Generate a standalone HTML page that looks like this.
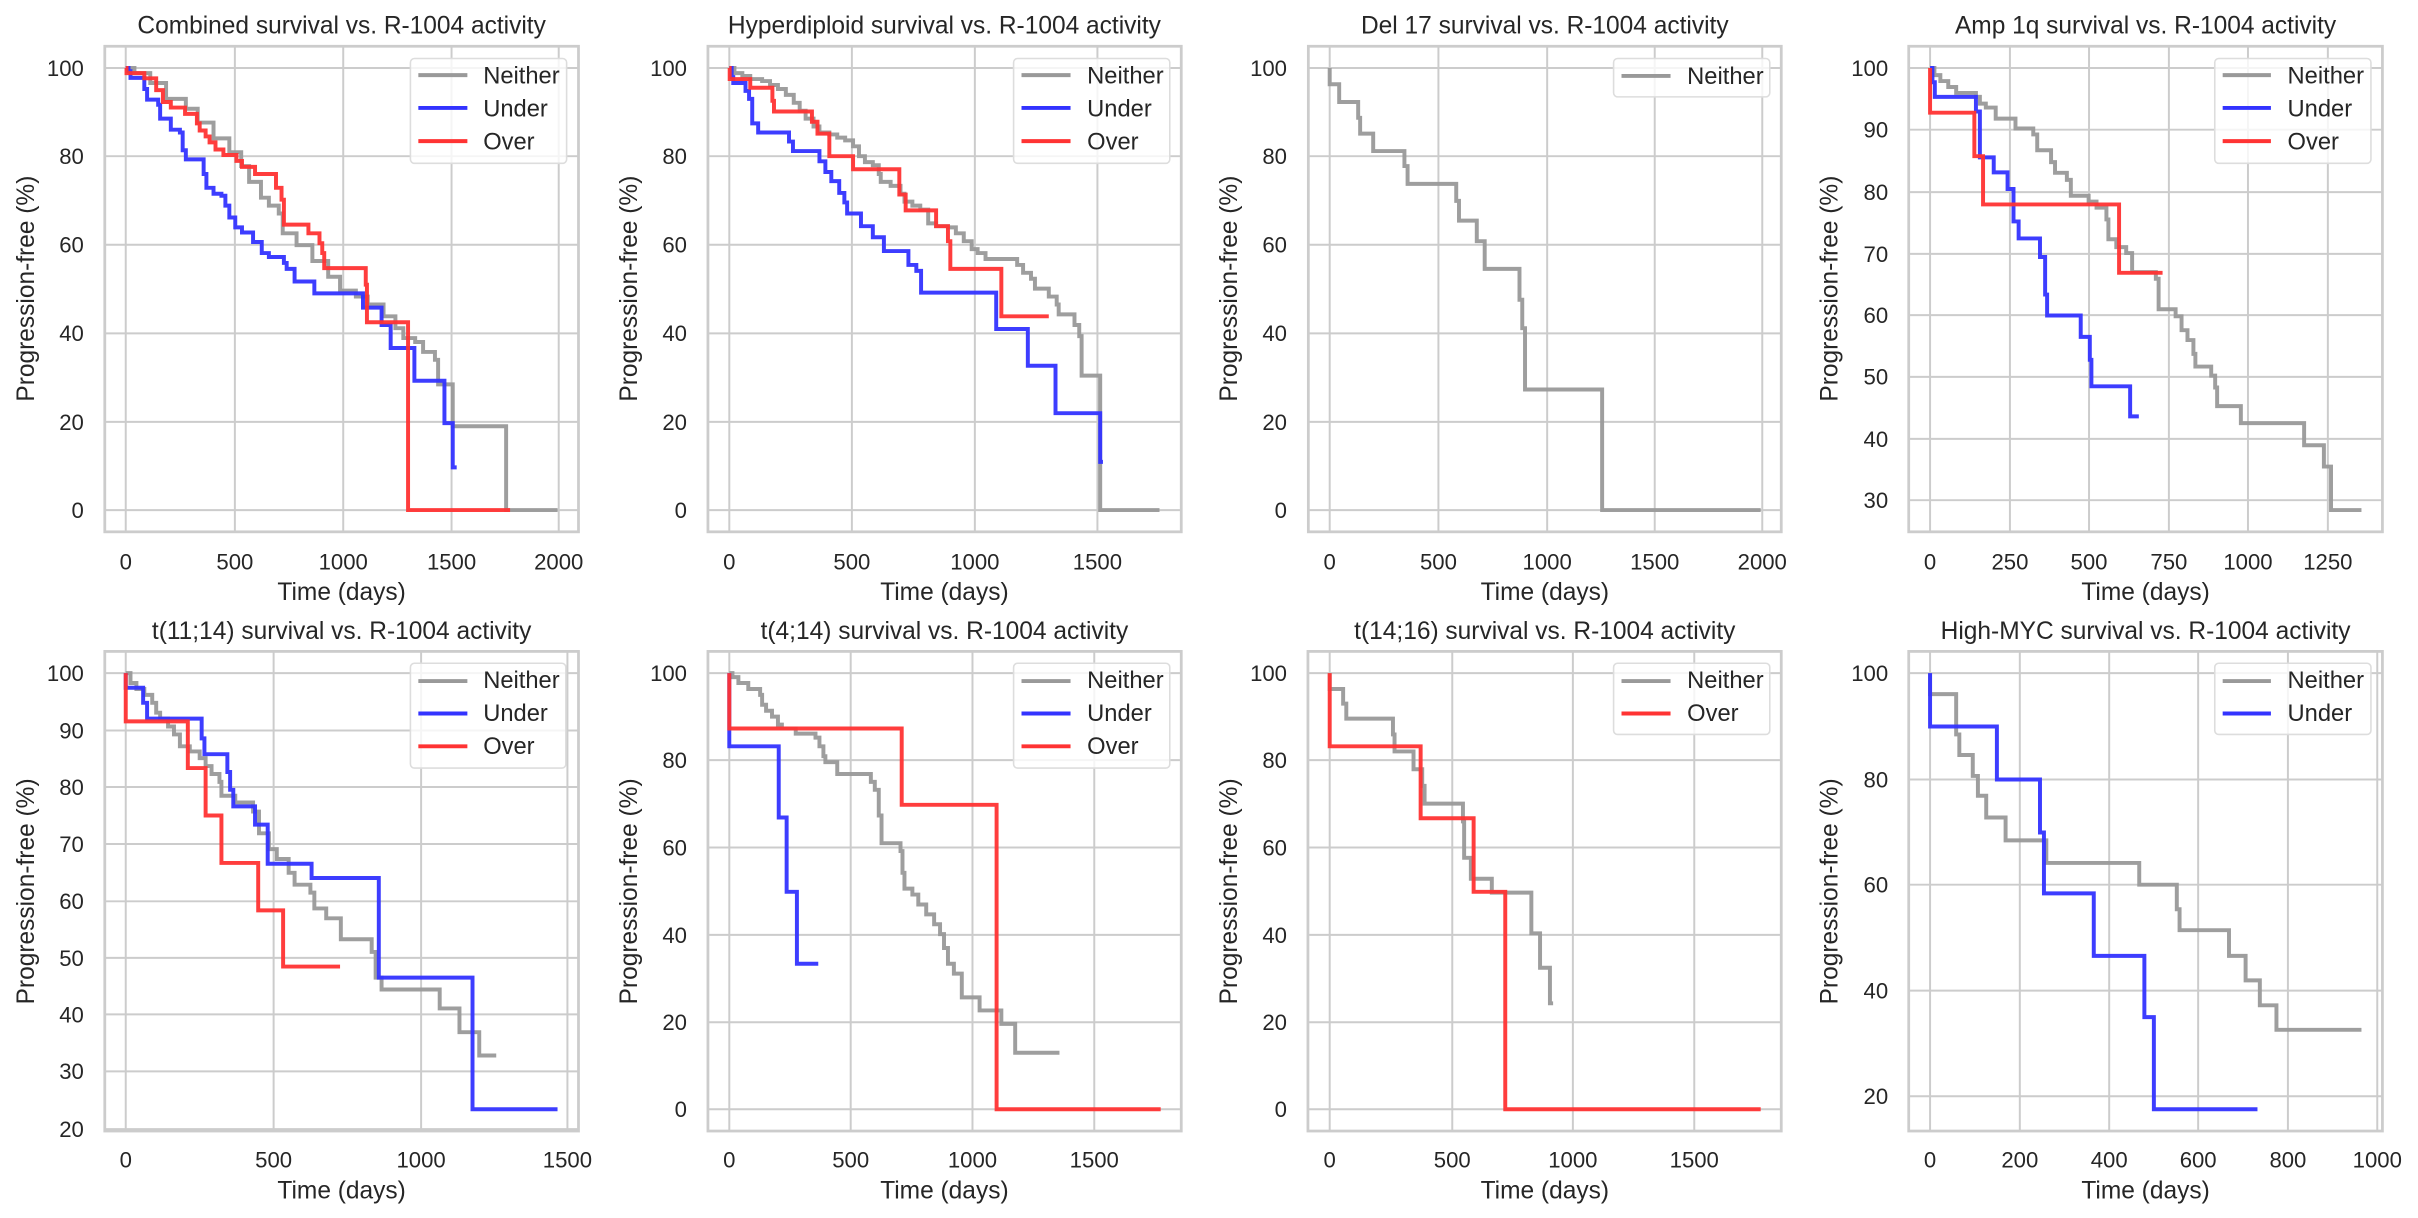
<!DOCTYPE html>
<html><head><meta charset="utf-8"><style>
html,body{margin:0;padding:0;background:#fff}
svg{display:block}
text{font-family:"Liberation Sans",Arial,sans-serif;fill:#262626}
.tk{font-size:56px}
.yt{text-anchor:end}
.xt{text-anchor:middle}
.lb{font-size:62px;text-anchor:middle}
.tt{font-size:62px;text-anchor:middle}
.lg{font-size:60px}
</style></head><body>
<svg id="s" width="2418" height="1218" viewBox="0 0 2418 1218" xmlns="http://www.w3.org/2000/svg">
<rect width="2418" height="1218" fill="#fff"/>

<g id="p1" transform="translate(0,0) scale(0.39541)">
<text class="tt" x="864" y="85">Combined survival vs. R-1004 activity</text>
<text class="tk yt" x="212" y="192">100</text><text class="tk yt" x="212" y="415">80</text><text class="tk yt" x="212" y="639">60</text><text class="tk yt" x="212" y="863">40</text><text class="tk yt" x="212" y="1087">20</text><text class="tk yt" x="212" y="1310">0</text>
<text class="tk xt" x="318" y="1440">0</text><text class="tk xt" x="594" y="1440">500</text><text class="tk xt" x="868" y="1440">1000</text><text class="tk xt" x="1142" y="1440">1500</text><text class="tk xt" x="1413" y="1440">2000</text>
<text class="lb" x="864" y="1517">Time (days)</text>
<text class="lb" transform="translate(86,730) rotate(-90)">Progression-free (%)</text>
<text class="lg" x="1222" y="211">Neither</text><text class="lg" x="1222" y="294">Under</text><text class="lg" x="1222" y="378">Over</text>
</g>
<g id="p2" transform="translate(600,0) scale(0.39541)">
<text class="tt" x="871" y="85">Hyperdiploid survival vs. R-1004 activity</text>
<text class="tk yt" x="220" y="192">100</text><text class="tk yt" x="220" y="415">80</text><text class="tk yt" x="220" y="639">60</text><text class="tk yt" x="220" y="863">40</text><text class="tk yt" x="220" y="1087">20</text><text class="tk yt" x="220" y="1310">0</text>
<text class="tk xt" x="327" y="1440">0</text><text class="tk xt" x="637" y="1440">500</text><text class="tk xt" x="948" y="1440">1000</text><text class="tk xt" x="1258" y="1440">1500</text>
<text class="lb" x="871" y="1517">Time (days)</text>
<text class="lb" transform="translate(94,730) rotate(-90)">Progression-free (%)</text>
<text class="lg" x="1232" y="211">Neither</text><text class="lg" x="1232" y="294">Under</text><text class="lg" x="1232" y="378">Over</text>
</g>
<g id="p3" transform="translate(1200,0) scale(0.39541)">
<text class="tt" x="872" y="85">Del 17 survival vs. R-1004 activity</text>
<text class="tk yt" x="220" y="192">100</text><text class="tk yt" x="220" y="415">80</text><text class="tk yt" x="220" y="639">60</text><text class="tk yt" x="220" y="863">40</text><text class="tk yt" x="220" y="1087">20</text><text class="tk yt" x="220" y="1310">0</text>
<text class="tk xt" x="328" y="1440">0</text><text class="tk xt" x="603" y="1440">500</text><text class="tk xt" x="878" y="1440">1000</text><text class="tk xt" x="1150" y="1440">1500</text><text class="tk xt" x="1422" y="1440">2000</text>
<text class="lb" x="872" y="1517">Time (days)</text>
<text class="lb" transform="translate(94,730) rotate(-90)">Progression-free (%)</text>
<text class="lg" x="1232" y="212">Neither</text>
</g>
<g id="p4" transform="translate(1798,0) scale(0.39541)">
<text class="tt" x="879" y="85">Amp 1q survival vs. R-1004 activity</text>
<text class="tk yt" x="228" y="192">100</text><text class="tk yt" x="228" y="348">90</text><text class="tk yt" x="228" y="506">80</text><text class="tk yt" x="228" y="662">70</text><text class="tk yt" x="228" y="817">60</text><text class="tk yt" x="228" y="973">50</text><text class="tk yt" x="228" y="1130">40</text><text class="tk yt" x="228" y="1285">30</text>
<text class="tk xt" x="334" y="1440">0</text><text class="tk xt" x="536" y="1440">250</text><text class="tk xt" x="736" y="1440">500</text><text class="tk xt" x="938" y="1440">750</text><text class="tk xt" x="1138" y="1440">1000</text><text class="tk xt" x="1340" y="1440">1250</text>
<text class="lb" x="879" y="1517">Time (days)</text>
<text class="lb" transform="translate(100,730) rotate(-90)">Progression-free (%)</text>
<text class="lg" x="1238" y="211">Neither</text><text class="lg" x="1238" y="294">Under</text><text class="lg" x="1238" y="378">Over</text>
</g>
<g id="p5" transform="translate(0,600) scale(0.39541)">
<text class="tt" x="864" y="98">t(11;14) survival vs. R-1004 activity</text>
<text class="tk yt" x="212" y="205">100</text><text class="tk yt" x="212" y="350">90</text><text class="tk yt" x="212" y="493">80</text><text class="tk yt" x="212" y="637">70</text><text class="tk yt" x="212" y="782">60</text><text class="tk yt" x="212" y="925">50</text><text class="tk yt" x="212" y="1068">40</text><text class="tk yt" x="212" y="1212">30</text><text class="tk yt" x="212" y="1358">20</text>
<text class="tk xt" x="318" y="1435">0</text><text class="tk xt" x="692" y="1435">500</text><text class="tk xt" x="1065" y="1435">1000</text><text class="tk xt" x="1435" y="1435">1500</text>
<text class="lb" x="864" y="1513">Time (days)</text>
<text class="lb" transform="translate(86,737) rotate(-90)">Progression-free (%)</text>
<text class="lg" x="1222" y="223">Neither</text><text class="lg" x="1222" y="306">Under</text><text class="lg" x="1222" y="389">Over</text>
</g>
<g id="p6" transform="translate(600,600) scale(0.39541)">
<text class="tt" x="871" y="98">t(4;14) survival vs. R-1004 activity</text>
<text class="tk yt" x="220" y="205">100</text><text class="tk yt" x="220" y="425">80</text><text class="tk yt" x="220" y="646">60</text><text class="tk yt" x="220" y="867">40</text><text class="tk yt" x="220" y="1088">20</text><text class="tk yt" x="220" y="1308">0</text>
<text class="tk xt" x="327" y="1435">0</text><text class="tk xt" x="634" y="1435">500</text><text class="tk xt" x="942" y="1435">1000</text><text class="tk xt" x="1250" y="1435">1500</text>
<text class="lb" x="871" y="1513">Time (days)</text>
<text class="lb" transform="translate(94,737) rotate(-90)">Progression-free (%)</text>
<text class="lg" x="1232" y="223">Neither</text><text class="lg" x="1232" y="306">Under</text><text class="lg" x="1232" y="389">Over</text>
</g>
<g id="p7" transform="translate(1200,600) scale(0.39541)">
<text class="tt" x="872" y="98">t(14;16) survival vs. R-1004 activity</text>
<text class="tk yt" x="220" y="205">100</text><text class="tk yt" x="220" y="425">80</text><text class="tk yt" x="220" y="646">60</text><text class="tk yt" x="220" y="867">40</text><text class="tk yt" x="220" y="1088">20</text><text class="tk yt" x="220" y="1308">0</text>
<text class="tk xt" x="328" y="1435">0</text><text class="tk xt" x="638" y="1435">500</text><text class="tk xt" x="943" y="1435">1000</text><text class="tk xt" x="1250" y="1435">1500</text>
<text class="lb" x="872" y="1513">Time (days)</text>
<text class="lb" transform="translate(94,737) rotate(-90)">Progression-free (%)</text>
<text class="lg" x="1232" y="223">Neither</text><text class="lg" x="1232" y="306">Over</text>
</g>
<g id="p8" transform="translate(1798,600) scale(0.39541)">
<text class="tt" x="879" y="98">High-MYC survival vs. R-1004 activity</text>
<text class="tk yt" x="228" y="205">100</text><text class="tk yt" x="228" y="474">80</text><text class="tk yt" x="228" y="740">60</text><text class="tk yt" x="228" y="1008">40</text><text class="tk yt" x="228" y="1275">20</text>
<text class="tk xt" x="334" y="1435">0</text><text class="tk xt" x="561" y="1435">200</text><text class="tk xt" x="787" y="1435">400</text><text class="tk xt" x="1012" y="1435">600</text><text class="tk xt" x="1239" y="1435">800</text><text class="tk xt" x="1465" y="1435">1000</text>
<text class="lb" x="879" y="1513">Time (days)</text>
<text class="lb" transform="translate(100,737) rotate(-90)">Progression-free (%)</text>
<text class="lg" x="1238" y="223">Neither</text><text class="lg" x="1238" y="306">Under</text>
</g>
</svg>
<script>
var NS="http://www.w3.org/2000/svg";
var G="#999999",B="#3333ff",R="#ff3333";
function el(t,a,p){var e=document.createElementNS(NS,t);for(var k in a)e.setAttribute(k,a[k]);p.appendChild(e);return e;}
function step(pts,end){var d="M"+pts[0][0]+" "+pts[0][1];for(var i=1;i<pts.length;i++){d+=" H"+pts[i][0]+" V"+pts[i][1];}d+=" H"+end;return d;}
var P=[
{id:"p1",f:[265,117,1198,1228],vx:[318,594,868,1142,1413],hy:[172,395,619,843,1067,1290],lg:[1038,148,395,265],ll:[1058,1182,[190,273,357]],
 s:[[G,[[318,172],[340,185],[380,210],[420,250],[470,275],[500,310],[540,350],[580,385],[610,420],[630,460],[660,500],[680,520],[705,540],[715,590],[750,620],[790,660],[830,700],[860,735],[900,750],[930,770],[970,800],[1000,830],[1020,855],[1050,865],[1070,890],[1100,910],[1108,972],[1145,1078],[1280,1290]],1410],
 [B,[[318,172],[325,180],[330,197],[365,225],[372,252],[400,265],[405,300],[432,328],[455,335],[462,380],[470,403],[515,440],[522,475],[540,490],[560,495],[570,520],[580,550],[595,575],[612,588],[640,612],[662,640],[680,650],[718,665],[725,680],[745,712],[795,742],[918,778],[965,822],[988,880],[1048,963],[1124,1070],[1145,1182]],1155],
 [R,[[318,172],[320,185],[365,198],[395,228],[412,258],[432,272],[468,288],[498,312],[505,330],[520,345],[530,360],[545,378],[565,392],[598,407],[612,422],[645,440],[698,475],[712,505],[718,568],[780,590],[808,615],[815,640],[820,678],[925,720],[928,815],[1032,1290]],1290]]},
{id:"p2",f:[273,117,1197,1228],vx:[327,637,948,1258],hy:[172,395,619,843,1067,1290],lg:[1046,148,395,265],ll:[1066,1190,[190,273,357]],
 s:[[G,[[327,172],[340,185],[360,192],[380,200],[410,205],[430,215],[450,225],[470,240],[490,260],[505,280],[520,300],[540,320],[555,335],[580,340],[600,348],[620,355],[640,370],[655,395],[670,410],[690,418],[705,440],[710,460],[735,470],[760,490],[770,510],[790,520],[810,530],[830,565],[850,572],[880,575],[900,590],[920,610],[940,630],[955,640],[975,655],[1055,670],[1070,690],[1090,705],[1100,730],[1135,750],[1155,770],[1160,795],[1200,822],[1212,850],[1218,950],[1265,1290]],1415],
 [B,[[327,172],[333,195],[337,210],[368,230],[377,250],[385,312],[400,335],[478,358],[488,382],[555,408],[570,435],[585,458],[605,488],[618,512],[625,540],[660,572],[690,600],[718,635],[780,670],[800,685],[812,740],[1002,832],[1082,925],[1152,1045],[1265,1168]],1272],
 [R,[[327,172],[328,200],[380,222],[436,255],[440,282],[536,308],[550,338],[580,395],[640,428],[757,492],[773,532],[850,572],[880,610],[886,680],[1015,800]],1135]]},
{id:"p3",f:[274,117,1196,1228],vx:[328,603,878,1150,1422],hy:[172,395,619,843,1067,1290],lg:[1046,148,395,97],ll:[1066,1190,[192]],
 s:[[G,[[328,172],[328,213],[352,258],[400,298],[405,338],[438,382],[517,420],[525,465],[648,508],[655,558],[700,610],[720,680],[808,758],[815,830],[822,985],[1017,1290]],1418]]},
{id:"p4",f:[280,117,1198,1228],vx:[334,536,736,938,1138,1340],hy:[172,328,486,642,797,953,1110,1265],lg:[1054,148,395,265],ll:[1074,1196,[190,273,357]],
 s:[[G,[[334,172],[345,190],[360,205],[380,220],[400,235],[450,245],[460,262],[475,272],[500,300],[550,325],[595,340],[605,380],[640,410],[650,437],[680,455],[690,495],[735,510],[755,525],[780,555],[785,605],[805,625],[830,640],[845,688],[905,705],[912,782],[955,800],[970,835],[985,860],[1000,895],[1005,927],[1045,950],[1055,980],[1060,1027],[1120,1070],[1280,1126],[1330,1180],[1348,1290]],1425],
 [B,[[334,172],[340,208],[346,245],[450,282],[460,398],[495,436],[530,478],[545,560],[558,603],[612,650],[625,745],[630,798],[715,852],[738,910],[742,977],[840,1053]],862],
 [R,[[334,172],[334,285],[446,395],[468,517],[812,690]],922]]},
{id:"p5",f:[265,130,1198,1213],vx:[318,692,1065,1435],hy:[185,330,473,617,762,905,1048,1192,1338],lg:[1038,160,393,265],ll:[1058,1182,[205,287,370]],
 s:[[G,[[318,185],[330,210],[345,225],[365,240],[385,260],[395,285],[405,300],[425,320],[440,340],[455,370],[480,383],[505,400],[520,420],[535,440],[555,460],[560,495],[595,512],[640,535],[655,590],[680,630],[700,655],[730,690],[745,720],[785,740],[795,780],[825,805],[862,858],[940,890],[950,955],[965,985],[1112,1033],[1162,1093],[1212,1152]],1255],
 [B,[[318,185],[318,222],[362,260],[372,300],[510,350],[517,390],[575,435],[582,480],[590,522],[645,568],[677,667],[788,703],[958,955],[1195,1288]],1410],
 [R,[[318,185],[318,307],[475,425],[520,545],[560,665],[653,785],[716,927]],860]]},
{id:"p6",f:[273,130,1197,1213],vx:[327,634,942,1250],hy:[185,405,626,847,1068,1288],lg:[1046,160,395,265],ll:[1066,1190,[205,287,370]],
 s:[[G,[[327,185],[335,195],[350,210],[375,225],[405,240],[410,265],[420,280],[435,295],[450,315],[460,325],[495,338],[545,348],[555,370],[565,395],[570,410],[600,440],[685,460],[695,480],[705,545],[712,615],[760,635],[765,690],[770,730],[790,745],[805,770],[825,795],[845,820],[860,845],[870,880],[880,920],[895,945],[915,1005],[960,1038],[1015,1072],[1050,1145]],1162],
 [B,[[327,185],[327,370],[452,550],[472,738],[498,920]],552],
 [R,[[327,185],[327,325],[763,518],[1003,1288]],1418]]},
{id:"p7",f:[273,130,1197,1213],vx:[328,638,943,1250],hy:[185,405,626,847,1068,1288],lg:[1046,160,395,180],ll:[1066,1190,[205,287]],
 s:[[G,[[328,185],[328,225],[362,262],[370,300],[488,340],[492,383],[540,428],[562,470],[568,515],[665,560],[668,652],[685,705],[738,740],[838,843],[860,930],[885,1020]],893],
 [R,[[328,185],[328,370],[558,552],[692,738],[772,1288]],1418]]},
{id:"p8",f:[280,130,1198,1213],vx:[334,561,787,1012,1239,1465],hy:[185,454,720,988,1255],lg:[1054,160,395,180],ll:[1074,1196,[205,287]],
 s:[[G,[[334,185],[334,238],[400,340],[408,392],[442,445],[455,495],[476,550],[525,608],[628,665],[863,720],[958,782],[965,835],[1090,900],[1132,962],[1168,1025],[1210,1087]],1425],
 [B,[[334,185],[334,320],[503,454],[612,588],[622,742],[748,900],[876,1055],[900,1288]],1162]]}
];
P.forEach(function(p){
 var g=document.getElementById(p.id);
 var f=p.f;
 var grp=document.createElementNS(NS,"g");g.insertBefore(grp,g.firstChild);
 el("rect",{x:f[0],y:f[1],width:f[2],height:f[3],fill:"#fff",stroke:"none"},grp);
 p.vx.forEach(function(x){el("line",{x1:x,x2:x,y1:f[1],y2:f[1]+f[3],stroke:"#cccccc","stroke-width":5},grp);});
 p.hy.forEach(function(y){el("line",{x1:f[0],x2:f[0]+f[2],y1:y,y2:y,stroke:"#cccccc","stroke-width":5},grp);});
 var lines=document.createElementNS(NS,"g");g.insertBefore(lines,grp.nextSibling);
 p.s.forEach(function(s){el("path",{d:step(s[1],s[2]),fill:"none",stroke:s[0],"stroke-width":10,"stroke-opacity":0.95},lines);});
 el("rect",{x:f[0],y:f[1],width:f[2],height:f[3],fill:"none",stroke:"#cccccc","stroke-width":7},lines);
 var lg=p.lg;
 el("rect",{x:lg[0],y:lg[1],width:lg[2],height:lg[3],rx:10,fill:"#fff","fill-opacity":0.8,stroke:"#dddddd","stroke-width":4},lines);
 var cols=p.s.map(function(s){return s[0];});
 p.ll[2].forEach(function(y,i){el("line",{x1:p.ll[0],x2:p.ll[1],y1:y,y2:y,stroke:cols[i],"stroke-width":10},lines);});
});
</script>
</body></html>
